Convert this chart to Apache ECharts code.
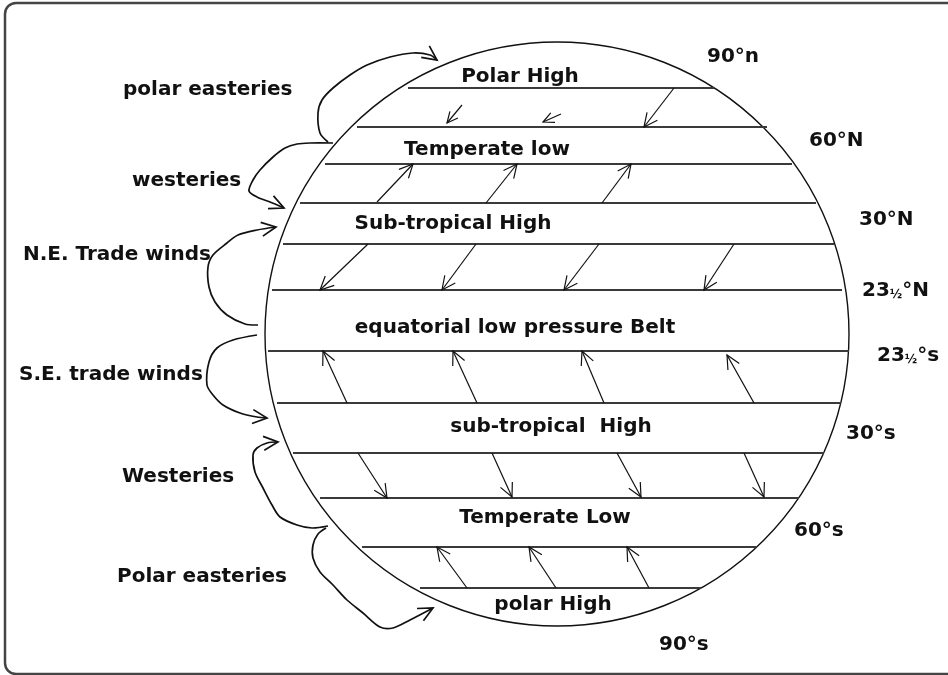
<!DOCTYPE html>
<html lang="en">

<head>
  <meta charset="UTF-8">
  <meta name="viewport" content="width=device-width, initial-scale=1.0">
  <title>pressure belts</title>
  <style>
    html, body { margin: 0; padding: 0; background: #fff; }
    #main { width: 948px; height: 675px; }
  </style>
</head>
<script src="https://cdn.jsdelivr.net/npm/echarts@6/dist/echarts.min.js"></script>

<body>
  <div id="main"></div>

  <script>
    // drawing space = pixel-like units, y grows downwards
    var frameBox = [[5, 3], [966, 674]]
    var globe = [557, 334, 292]   // cx, cy, r

    // pressure belt boundaries (y) and where each one meets the globe
    var beltY = [88, 127, 164, 203, 244, 290, 351, 403, 453, 498, 547, 588]
    var beltLeft = [408, 357, 325, 300, 283, 272, 268, 277, 293, 320, 362, 420]
    var beltRight = [714, 767, 792, 816, 834, 842, 849, 841, 824, 799, 756, 701]

    // belt names + centre of each label
    var beltNames = ['Polar High', 'Temperate low', 'Sub-tropical High', 'equatorial low pressure Belt',
      'sub-tropical  High', 'Temperate Low', 'polar High']
    var beltNamePos = [[520, 77], [487, 150], [453, 224], [515, 328], [551, 427], [545, 518], [553, 605]]

    // winds on the left side (left x, middle y)
    var windNames = ['polar easteries', 'westeries', 'N.E. Trade winds', 'S.E. trade winds', 'Westeries', 'Polar easteries']
    var windNamePos = [[123, 90], [132, 181], [23, 255], [19, 375], [122, 477], [117, 577]]

    // latitudes on the right side
    var latNames = ['90°n', '60°N', '30°N', '23{f|½}°N', '23{f|½}°s', '30°s', '60°s', '90°s']
    var latPos = [[707, 57], [809, 141], [859, 220], [862, 291], [877, 356], [846, 434], [794, 531], [659, 645]]

    // straight wind arrows inside the belts: x1, y1 -> x2, y2 (head at x2, y2)
    var windArrows = [
      [462, 105, 447, 123], [561, 114, 543, 122], [674, 88, 644, 127],
      [377, 202, 413, 164], [486, 203, 517, 164], [602, 203, 631, 164],
      [368, 244, 320, 290], [476, 244, 442, 290], [599, 244, 564, 290], [734, 244, 704, 290],
      [347, 403, 323, 351], [477, 403, 453, 351], [604, 403, 582, 351], [754, 403, 727, 355],
      [358, 453, 387, 498], [492, 453, 512, 497], [617, 453, 641, 497], [744, 453, 764, 497],
      [467, 588, 437, 547], [556, 588, 529, 547], [649, 588, 627, 547]
    ]

    // curved arrows on the left
    var polarEastN = [[328, 142], [320, 133], [318, 113], [322, 100], [333, 88], [350, 75], [367, 65], [390, 57], [413, 53], [430, 55], [437, 60]]
    var westN = [[333, 143], [310, 143], [297, 144], [285, 148], [273, 157], [260, 170], [253, 180], [249, 191], [257, 197], [270, 202], [284, 208]]
    var tradeNE = [[258, 325], [245, 324], [227, 315], [215, 302], [209, 287], [208, 267], [213, 255], [227, 243], [238, 235], [257, 230], [276, 227]]
    var tradeSE = [[257, 335], [233, 340], [217, 348], [209, 362], [207, 385], [213, 395], [223, 405], [240, 413], [257, 417], [267, 418]]
    var westS = [[328, 526], [312, 528], [297, 525], [280, 517], [272, 505], [263, 488], [255, 472], [253, 455], [257, 448], [267, 443], [278, 442]]
    var polarEastS = [[326, 528], [318, 534], [313, 545], [313, 558], [320, 572], [333, 585], [347, 600], [363, 613], [380, 627], [393, 628], [410, 620], [433, 608]]
    var curves = [polarEastN, westN, tradeNE, tradeSE, westS, polarEastS]

    var FONT = '"DejaVu Sans", Verdana, sans-serif'
    var INK = '#111'
    var SIZE = 20

    var mCharts = echarts.init(document.getElementById('main'))

    // open "V" arrow head at tip, pointing away from "from"
    function head(tip, from, len) {
      var a = Math.atan2(from[1] - tip[1], from[0] - tip[0])
      var s = 0.45
      return [
        [tip[0] + len * Math.cos(a + s), tip[1] + len * Math.sin(a + s)],
        tip,
        [tip[0] + len * Math.cos(a - s), tip[1] + len * Math.sin(a - s)]
      ]
    }

    // one text label series
    function labelSeries(names, pos, align, rich) {
      return {
        type: 'custom',
        silent: true,
        data: pos.map(function (p, i) { return [p[0], p[1], i] }),
        renderItem: function (params, api) {
          var c = api.coord([api.value(0), api.value(1)])
          return {
            type: 'text',
            style: {
              x: c[0], y: c[1], text: names[api.value(2)],
              fill: INK, fontFamily: FONT, fontWeight: 'bold', fontSize: SIZE,
              align: align, verticalAlign: 'middle', rich: rich
            }
          }
        }
      }
    }

    var option = {
      animation: false,
      grid: { left: 0, right: 0, top: 0, bottom: 0 },
      xAxis: { type: 'value', min: 0, max: 948, show: false },
      yAxis: { type: 'value', min: 0, max: 675, inverse: true, show: false },
      series: [
        // outer frame
        {
          type: 'custom',
          silent: true,
          data: [[frameBox[0][0], frameBox[0][1], frameBox[1][0], frameBox[1][1]]],
          renderItem: function (params, api) {
            var p1 = api.coord([api.value(0), api.value(1)])
            var p2 = api.coord([api.value(2), api.value(3)])
            return {
              type: 'rect',
              shape: { x: p1[0], y: p1[1], width: p2[0] - p1[0], height: p2[1] - p1[1], r: 11 },
              style: { fill: 'none', stroke: '#444', lineWidth: 2.5 }
            }
          }
        },
        // the globe
        {
          type: 'custom',
          silent: true,
          data: [globe],
          renderItem: function (params, api) {
            var c = api.coord([api.value(0), api.value(1)])
            var r = api.size([api.value(2), 0])[0]
            return {
              type: 'circle',
              shape: { cx: c[0], cy: c[1], r: r },
              style: { fill: 'none', stroke: INK, lineWidth: 1.4 }
            }
          }
        },
        // belt boundaries
        {
          type: 'custom',
          silent: true,
          data: beltY.map(function (y, i) { return [beltLeft[i], y, beltRight[i]] }),
          renderItem: function (params, api) {
            var a = api.coord([api.value(0), api.value(1)])
            var b = api.coord([api.value(2), api.value(1)])
            return {
              type: 'line',
              shape: { x1: a[0], y1: a[1], x2: b[0], y2: b[1] },
              style: { stroke: '#3a3a3a', lineWidth: 2 }
            }
          }
        },
        // straight arrows
        {
          type: 'custom',
          silent: true,
          data: windArrows,
          renderItem: function (params, api) {
            var a = api.coord([api.value(0), api.value(1)])
            var b = api.coord([api.value(2), api.value(3)])
            var small = Math.hypot(b[0] - a[0], b[1] - a[1]) < 30
            return {
              type: 'group',
              children: [
                { type: 'line', shape: { x1: a[0], y1: a[1], x2: b[0], y2: b[1] }, style: { stroke: INK, lineWidth: 1.2 } },
                { type: 'polyline', shape: { points: head(b, a, small ? 12 : 15) }, style: { fill: 'none', stroke: INK, lineWidth: 1.2 } }
              ]
            }
          }
        },
        // curved arrows
        {
          type: 'custom',
          silent: true,
          data: curves.map(function (c, i) { return [c[0][0], c[0][1], i] }),
          renderItem: function (params, api) {
            var pts = curves[api.value(2)].map(function (p) { return api.coord(p) })
            var n = pts.length
            return {
              type: 'group',
              children: [
                { type: 'polyline', shape: { points: pts, smooth: 0.3 }, style: { fill: 'none', stroke: INK, lineWidth: 1.7 } },
                { type: 'polyline', shape: { points: head(pts[n - 1], pts[n - 2], 16) }, style: { fill: 'none', stroke: INK, lineWidth: 1.7 } }
              ]
            }
          }
        },
        labelSeries(beltNames, beltNamePos, 'center'),
        labelSeries(windNames, windNamePos, 'left'),
        labelSeries(latNames, latPos, 'left', {
          f: { fontFamily: FONT, fontWeight: 'bold', fontSize: 12, fill: INK, verticalAlign: 'bottom' }
        })
      ]
    }

    mCharts.setOption(option)
    window.onresize = mCharts.resize
  </script>
</body>

</html>
